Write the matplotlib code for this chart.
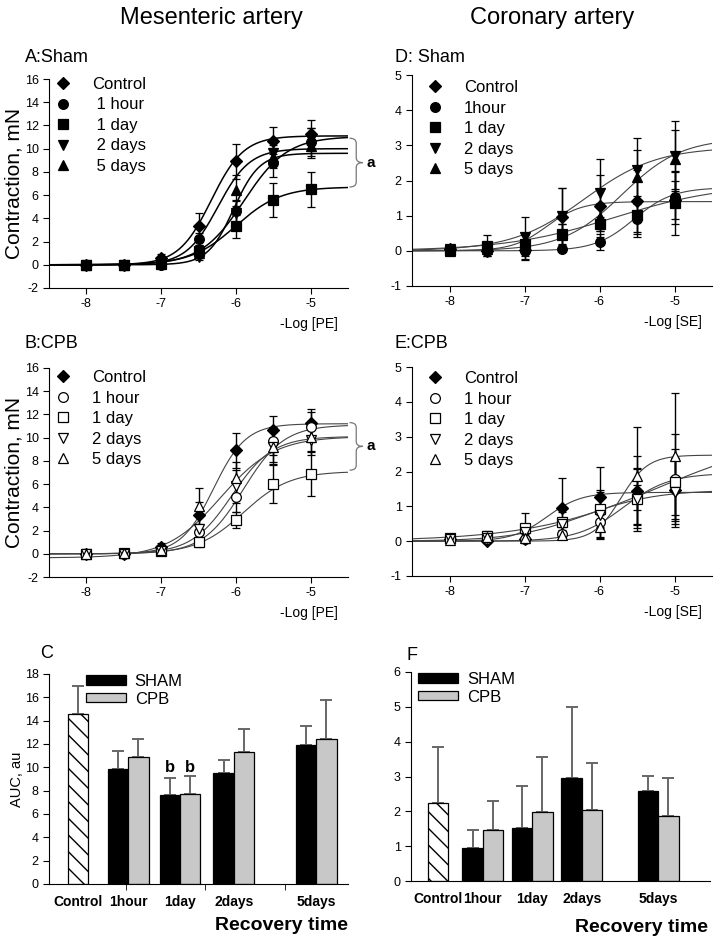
import numpy as np
import matplotlib
matplotlib.use("Agg")
import matplotlib.pyplot as plt
from matplotlib.lines import Line2D
from matplotlib.patches import PathPatch
from matplotlib.path import Path
from matplotlib.transforms import blended_transform_factory

plt.rcParams['font.family'] = ['Liberation Sans', 'DejaVu Sans']
plt.rcParams['axes.unicode_minus'] = False

# concentration (log M)
log_conc = [-8, -7.5, -7, -6.5, -6, -5.5, -5]
groups = ["Control", "1 hour", "1 day", "2 days", "5 days"]

# A: mesenteric, sham
a_mean = {
    "Control": [0, 0, 0.6, 3.3, 8.9, 10.7, 11.3],
    "1 hour": [0, 0, 0, 2.2, 4.6, 8.8, 10.6],
    "1 day": [0, 0, 0.1, 1.2, 3.3, 5.6, 6.5],
    "2 days": [0, 0, 0, 0.7, 4.5, 9.6, 10.8],
    "5 days": [0, 0, 0.2, 1.0, 6.4, 9.3, 10.2],
}
a_err = {
    "Control": [0.1, 0.1, 0.3, 1.2, 1.5, 1.2, 1.2],
    "1 hour": [0.1, 0.1, 0.1, 0.5, 1.0, 1.25, 1.2],
    "1 day": [0.1, 0.1, 0.1, 0.5, 1.0, 1.45, 1.5],
    "2 days": [0.1, 0.1, 0.1, 0.3, 1.0, 1.0, 1.0],
    "5 days": [0.1, 0.1, 0.2, 0.4, 1.3, 1.0, 1.0],
}
# fit: bottom, top, logEC50, hill slope
a_fit = {
    "Control": [0, 11.1, -6.33, 2.0],
    "1 hour": [0, 11.05, -5.89, 1.5],
    "1 day": [0, 6.7, -6.0, 1.44],
    "2 days": [0, 9.6, -6.03, 2.5],
    "5 days": [0, 10.0, -6.24, 2.05],
}

# B: mesenteric, CPB
b_mean = {
    "Control": [0, 0, 0.6, 3.3, 8.9, 10.7, 11.3],
    "1 hour": [0, 0, 0.2, 1.9, 4.9, 9.7, 10.9],
    "1 day": [0, 0.1, 0.2, 1.0, 2.9, 6.0, 6.9],
    "2 days": [0, 0, 0.2, 2.1, 5.8, 9.2, 9.8],
    "5 days": [0, 0.1, 0.3, 4.1, 6.5, 9.2, 10.1],
}
b_err = {
    "Control": [0.1, 0.1, 0.3, 1.2, 1.5, 1.2, 1.2],
    "1 hour": [0.1, 0.1, 0.2, 0.6, 1.3, 1.2, 1.3],
    "1 day": [0.1, 0.1, 0.2, 0.4, 0.7, 1.65, 1.95],
    "2 days": [0.1, 0.1, 0.2, 0.5, 1.4, 1.5, 1.3],
    "5 days": [0.1, 0.1, 0.2, 1.6, 1.4, 1.3, 1.3],
}
b_fit = {
    "Control": [0, 11.2, -6.3, 2.0],
    "1 hour": [0, 11.1, -5.9, 1.6],
    "1 day": [0, 7.1, -5.9, 1.4],
    "2 days": [0, 10.1, -6.05, 1.6],
    "5 days": [-0.35, 10.1, -6.2, 1.2],
}

# D: coronary, sham
d_mean = {
    "Control": [0.05, 0, 0.02, 0.95, 1.27, 1.42, 1.45],
    "1 hour": [0.02, 0, 0, 0.05, 0.25, 0.9, 1.52],
    "1 day": [0.03, 0.15, 0.2, 0.47, 0.75, 1.02, 1.35],
    "2 days": [0.05, 0.1, 0.4, 1.0, 1.65, 2.3, 2.7],
    "5 days": [0, 0.05, 0.12, 0.45, 0.95, 2.1, 2.6],
}
d_err = {
    "Control": [0.1, 0.15, 0.1, 0.85, 0.88, 0.88, 0.55],
    "1 hour": [0.05, 0.05, 0.25, 0.05, 0.22, 0.5, 0.75],
    "1 day": [0.1, 0.3, 0.25, 0.3, 0.2, 0.55, 0.9],
    "2 days": [0.05, 0.1, 0.55, 0.8, 0.95, 0.9, 1.0],
    "5 days": [0.05, 0.1, 0.35, 0.3, 0.4, 0.78, 0.85],
}
d_fit = {
    "Control": [0, 1.4, -6.7, 1.9],
    "1 hour": [0, 1.8, -5.54, 1.68],
    "1 day": [0, 1.9, -5.8, 0.6],
    "2 days": [0, 2.95, -6.2, 0.9],
    "5 days": [0, 3.2, -5.7, 1.1],
}

# E: coronary, CPB
e_mean = {
    "Control": [0.05, 0, 0.05, 0.95, 1.27, 1.45, 1.48],
    "1 hour": [0.05, 0.05, 0.05, 0.22, 0.55, 1.25, 1.78],
    "1 day": [0.08, 0.15, 0.38, 0.55, 0.92, 1.22, 1.7],
    "2 days": [0.05, 0.1, 0.25, 0.5, 0.75, 1.2, 1.4],
    "5 days": [0.02, 0.12, 0.1, 0.17, 0.4, 1.88, 2.45],
}
e_err = {
    "Control": [0.05, 0.05, 0.05, 0.85, 0.87, 1.0, 0.9],
    "1 hour": [0.05, 0.1, 0.05, 0.1, 0.42, 0.35, 1.3],
    "1 day": [0.05, 0.15, 0.42, 0.3, 0.55, 0.85, 0.95],
    "2 days": [0.05, 0.1, 0.1, 0.1, 0.65, 0.9, 1.0],
    "5 days": [0.05, 0.05, 0.1, 0.1, 0.35, 1.4, 1.8],
}
e_fit = {
    "Control": [0, 1.4, -6.7, 1.9],
    "1 hour": [0, 1.95, -5.68, 1.42],
    "1 day": [0, 3.1, -5.2, 0.5],
    "2 days": [0, 1.47, -6.2, 0.9],
    "5 days": [0, 2.47, -5.715, 2.42],
}

# C / F: AUC bars
bar_cats = ["Control", "1hour", "1day", "2days", "5days"]
c_control, c_control_err = 14.55, 2.45
c_sham = [9.9, 7.6, 9.55, 11.95]
c_sham_err = [1.5, 1.5, 1.05, 1.6]
c_cpb = [10.9, 7.7, 11.3, 12.4]
c_cpb_err = [1.55, 1.6, 2.0, 3.4]
f_control, f_control_err = 2.25, 1.6
f_sham = [0.95, 1.53, 2.96, 2.57]
f_sham_err = [0.52, 1.2, 2.04, 0.45]
f_cpb = [1.47, 1.98, 2.04, 1.87]
f_cpb_err = [0.83, 1.58, 1.34, 1.1]

markers = {"Control": "D", "1 hour": "o", "1 day": "s", "2 days": "v", "5 days": "^"}
msizes = {"Control": 6.5, "1 hour": 7, "1 day": 6.5, "2 days": 7.5, "5 days": 7.5}

fig = plt.figure(figsize=(7.21, 9.4), dpi=100)


def px_axes(l, t, r, b):
    W, H = 721.0, 940.0
    return fig.add_axes([l / W, 1 - b / H, (r - l) / W, (b - t) / H])


def hill(x, p):
    bottom, top, ec50, n = p
    return bottom + (top - bottom) / (1 + 10 ** ((ec50 - x) * n))


def style(ax):
    for s in ["top", "right"]:
        ax.spines[s].set_visible(False)
    ax.tick_params(direction="out", length=4, labelsize=9, width=0.8)


def draw_brace(ax, y_lo, y_hi):
    tr = blended_transform_factory(ax.transAxes, ax.transData)
    x0, w = 1.005, 0.045
    ym = (y_lo + y_hi) / 2
    r = (y_hi - y_lo) * 0.1
    verts = [(x0, y_hi), (x0 + w / 2, y_hi), (x0 + w / 2, y_hi - r),
             (x0 + w / 2, ym + r), (x0 + w / 2, ym), (x0 + w, ym),
             (x0 + w / 2, ym), (x0 + w / 2, ym - r),
             (x0 + w / 2, y_lo + r), (x0 + w / 2, y_lo), (x0, y_lo)]
    codes = [Path.MOVETO, Path.CURVE3, Path.CURVE3, Path.LINETO, Path.CURVE3, Path.CURVE3,
             Path.CURVE3, Path.CURVE3, Path.LINETO, Path.CURVE3, Path.CURVE3]
    ax.add_patch(PathPatch(Path(verts, codes), fill=False, edgecolor="#777777", lw=0.9,
                           transform=tr, clip_on=False))
    ax.text(x0 + w + 0.012, ym, "a", transform=tr, fontsize=11, fontweight="bold",
            va="center", ha="left")


def curve_panel(ax, means, errs, fits, hollow, line_col, lw, ylim, yticks, labels, leg_anchor, xlab):
    style(ax)
    xs = np.linspace(-8.5, -4.5, 300)
    for g in groups:
        ax.plot(xs, hill(xs, fits[g]), color=line_col, lw=lw, zorder=2)
    for g in groups:
        fc = "white" if (hollow and g != "Control") else "black"
        ax.errorbar(log_conc, means[g], yerr=errs[g], fmt=markers[g], ms=msizes[g],
                    mfc=fc, mec="black", mew=0.9, ecolor="black", elinewidth=1,
                    capsize=3, capthick=1, zorder=3)
    ax.set_xlim(-8.5, -4.5)
    ax.set_ylim(*ylim)
    ax.set_yticks(yticks)
    ax.set_xticks([-8, -7, -6, -5])
    ax.spines["left"].set_bounds(ylim[0], ylim[1])
    handles = []
    for g in groups:
        fc = "white" if (hollow and g != "Control") else "black"
        handles.append(Line2D([], [], marker=markers[g], ms=msizes[g], mfc=fc, mec="black",
                              mew=0.9, ls="none"))
    ax.legend(handles, labels, loc="upper left", bbox_to_anchor=leg_anchor, frameon=False,
              fontsize=12, handlelength=1.0, handletextpad=1.2, labelspacing=0.33,
              borderpad=0, borderaxespad=0)
    ax.text(0.965, -0.17, xlab, transform=ax.transAxes, ha="right", va="center", fontsize=10)


# line panels
axA = px_axes(49, 79, 348, 288)
curve_panel(axA, a_mean, a_err, a_fit, False, "black", 1.1, (-2, 16), range(-2, 17, 2),
            ["Control", " 1 hour", " 1 day", " 2 days", " 5 days"], (0.02, 1.01), "-Log [PE]")
axA.set_ylabel("Contraction, mN", fontsize=15)
axA.yaxis.set_label_coords(-0.085, 0.5)
draw_brace(axA, 6.7, 10.9)

axB = px_axes(49, 368, 348, 577)
curve_panel(axB, b_mean, b_err, b_fit, True, "#444444", 0.8, (-2, 16), range(-2, 17, 2),
            ["Control", "1 hour", "1 day", "2 days", "5 days"], (0.02, 0.99), "-Log [PE]")
axB.set_ylabel("Contraction, mN", fontsize=15)
axB.yaxis.set_label_coords(-0.085, 0.5)
draw_brace(axB, 7.2, 11.3)

axD = px_axes(412, 75, 712, 286)
curve_panel(axD, d_mean, d_err, d_fit, False, "#444444", 0.8, (-1, 5), range(-1, 6),
            ["Control", "1hour", "1 day", "2 days", "5 days"], (0.05, 0.975), "-Log [SE]")

axE = px_axes(412, 367, 712, 576)
curve_panel(axE, e_mean, e_err, e_fit, True, "#444444", 0.8, (-1, 5), range(-1, 6),
            ["Control", "1 hour", "1 day", "2 days", "5 days"], (0.05, 0.98), "-Log [SE]")


# bar panels
def bar_panel(ax, pos, ctrl, ctrl_err, sham, sham_err, cpb, cpb_err, ylim, yticks, leg_anchor, minor):
    style(ax)
    w = 0.41
    ecol = "#666666"
    ax.bar(pos[0], ctrl, w, color="white", edgecolor="black", hatch="\\\\", lw=0.9, zorder=2)
    ax.errorbar(pos[0], ctrl, yerr=[[0], [ctrl_err]], fmt="none", ecolor=ecol, elinewidth=1.4,
                capsize=4, capthick=1.4, zorder=1)
    gp = np.array(pos[1:])
    ax.bar(gp - w / 2, sham, w, color="black", edgecolor="black", lw=0.9, zorder=2, label="SHAM")
    ax.bar(gp + w / 2, cpb, w, color="#c8c8c8", edgecolor="black", lw=0.9, zorder=2, label="CPB")
    ax.errorbar(gp - w / 2, sham, yerr=[np.zeros(4), sham_err], fmt="none", ecolor=ecol,
                elinewidth=1.4, capsize=4, capthick=1.4, zorder=1)
    ax.errorbar(gp + w / 2, cpb, yerr=[np.zeros(4), cpb_err], fmt="none", ecolor=ecol,
                elinewidth=1.4, capsize=4, capthick=1.4, zorder=1)
    ax.set_xlim(0, 6)
    ax.set_ylim(*ylim)
    ax.set_yticks(yticks)
    ax.set_xticks(pos)
    ax.set_xticklabels(bar_cats, fontsize=10, fontweight="bold")
    ax.tick_params(axis="x", length=0, pad=8)
    if minor:
        ax.set_xticks(minor, minor=True)
        ax.tick_params(axis="x", which="minor", length=4, direction="out")
    ax.legend(loc="upper left", bbox_to_anchor=leg_anchor, frameon=False, fontsize=12,
              handlelength=2.35, handleheight=0.5, handletextpad=0.55, labelspacing=0.15,
              borderpad=0, borderaxespad=0)


axC = px_axes(49, 674, 348, 884)
bar_panel(axC, [0.58, 1.59, 2.63, 3.71, 5.36], c_control, c_control_err, c_sham, c_sham_err,
          c_cpb, c_cpb_err, (0, 18), range(0, 19, 2), (0.125, 1.0), [1.55, 3.13, 4.74])
axC.set_ylabel("AUC, au", fontsize=10.5)
axC.yaxis.set_label_coords(-0.085, 0.5)
# significance marks over the 1 day bars
axC.text(2.63 - 0.205, 9.35, "b", ha="center", va="bottom", fontsize=12, fontweight="bold")
axC.text(2.63 + 0.205, 9.35, "b", ha="center", va="bottom", fontsize=12, fontweight="bold")

axF = px_axes(411, 672, 710, 881)
bar_panel(axF, [0.54, 1.44, 2.43, 3.43, 4.96], f_control, f_control_err, f_sham, f_sham_err,
          f_cpb, f_cpb_err, (0, 6), range(0, 7), (0.025, 1.0), None)

# figure texts
fig.text(211 / 721, 1 - 18 / 940, "Mesenteric artery", ha="center", va="center", fontsize=17)
fig.text(552 / 721, 1 - 18 / 940, "Coronary artery", ha="center", va="center", fontsize=17)
for lab, x, y in [("A:Sham", 25, 57), ("B:CPB", 25, 343), ("D: Sham", 395, 57),
                  ("E:CPB", 395, 344), ("C", 40, 654), ("F", 406, 655)]:
    fig.text(x / 721, 1 - y / 940, lab, ha="left", va="center", fontsize=13)
fig.text(348 / 721, 1 - 925 / 940, "Recovery time", ha="right", va="center", fontsize=14,
         fontweight="bold")
fig.text(708 / 721, 1 - 928 / 940, "Recovery time", ha="right", va="center", fontsize=14,
         fontweight="bold")

fig.savefig("out.png", dpi=100)
